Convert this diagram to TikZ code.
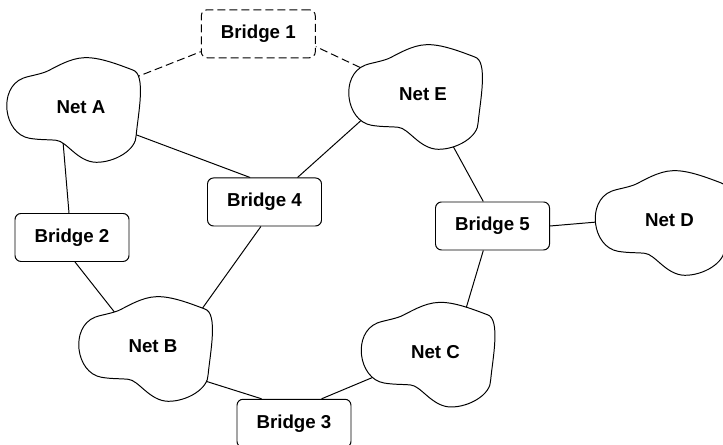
\documentclass[tikz,border=0pt]{standalone}
\usepackage{fontspec}
\setmainfont{Liberation Sans}
\usepackage{tikz}
\usetikzlibrary{calc, positioning}

% lớp vẽ: dây nối nằm dưới, đám mây ở giữa, chữ ở trên cùng
\pgfdeclarelayer{wires}
\pgfdeclarelayer{clouds}
\pgfsetlayers{wires,clouds,main}

\begin{document}
\begin{tikzpicture}[x=0.25cm, y=0.25cm,
    every node/.style={font=\fontsize{13.3pt}{16pt}\selectfont\bfseries},
    bridge/.style={draw, line width=0.7pt, rounded corners=0.15cm, fill=white,
        minimum width=2.85cm, minimum height=1.2cm, inner sep=0pt},
    bridgeoff/.style={bridge, dash pattern=on 0.2cm off 0.1cm},
    net/.style={inner sep=0pt},
    netshape/.style={draw, line width=0.7pt, fill=white},
    wire/.style={line width=0.7pt},
    offwire/.style={wire, dash pattern=on 0.2cm off 0.1cm}]

    % khung hình
    \useasboundingbox (0,0) rectangle (72.3,44.5);

    % =================================================================
    % 1. CÁC MẠNG (ĐÁM MÂY)
    % =================================================================
    \node[net] (A) at (8.1,33.8)   {Net A};
    \node[net] (E) at (42.3,35.1)  {Net E};
    \node[net] (B) at (15.3,9.9)   {Net B};
    \node[net] (C) at (43.55,9.33) {Net C};
    \node[net] (D) at (66.95,22.5) {Net D};

    % =================================================================
    % 2. CÁC CẦU NỐI
    % =================================================================
    \node[bridgeoff] (br1) at (25.83,41.12) {Bridge 1};
    \node[bridge] (br2) at (7.2,20.75)  {Bridge 2};
    \node[bridge] (br3) at (29.4,2.17)  {Bridge 3};
    \node[bridge] (br4) at (26.45,24.3) {Bridge 4};
    \node[bridge] (br5) at (49.25,21.9) {Bridge 5};

    % viền đám mây quanh mỗi mạng
    \begin{pgfonlayer}{clouds}
        \foreach \net in {A,B,C,D,E}
            \draw[netshape, shift={(\net)}, shift={(-0.65,-0.3)}]
                (-5.17,3.17) .. controls (-7.67,2.17) and (-7.1,-2.39) .. (-4.5,-2.83)
                .. controls (-3.5,-3.0) and (-2.6,-2.95) .. (-1.83,-3.03)
                .. controls (-0.8,-3.1) and (0.3,-5.2) .. (2.17,-5.23)
                .. controls (4.0,-5.25) and (6.2,-4.0) .. (6.17,-2.5)
                .. controls (6.35,-0.5) and (7.2,3.6) .. (5.83,4.0)
                .. controls (4.5,4.5) and (2.5,5.3) .. (1.0,5.23)
                .. controls (-0.5,5.2) and (-2.0,4.2) .. (-2.83,3.83)
                .. controls (-3.7,3.5) and (-4.6,3.4) .. cycle;
    \end{pgfonlayer}

    % =================================================================
    % 3. DÂY NỐI GIỮA MẠNG VÀ CẦU
    % =================================================================
    \begin{pgfonlayer}{wires}
        \draw[wire] ($(A)+(-1.88,-2.5)$) -- ([xshift=-0.075cm]br2.north);
        \draw[wire] ($(A)+(4.64,-2.45)$) -- ([xshift=-0.36cm]br4.north);
        \draw[wire] ($(E)+(-5.39,-1.93)$) -- ([xshift=0.825cm]br4.north);
        \draw[wire] ($(B)+(4.29,2.86)$) -- ([xshift=-0.09cm]br4.south);
        \draw[wire] ($(B)+(-3.01,2.32)$) -- ([xshift=0.075cm]br2.south);
        \draw[wire] ($(B)+(4.42,-3.25)$) -- ([xshift=-0.81cm]br3.north);
        \draw[wire] ($(C)+(-5.3,-2.16)$) -- ([xshift=0.69cm]br3.north);
        \draw[wire] ($(E)+(2.55,-4.39)$) -- ([xshift=-0.23cm]br5.north);
        \draw[wire] ($(C)+(2.77,3.38)$) -- ([xshift=-0.23cm]br5.south);
        \draw[wire] ($(D)+(-6.29,-0.12)$) -- (br5.east);

        % cầu dự phòng nét đứt
        \draw[offwire] ($(A)+(5.14,2.84)$) -- ([yshift=0.165cm]br1.south west);
        \draw[offwire] ($(E)+(-5.22,2.15)$) -- ([yshift=-0.32cm]br1.east);
    \end{pgfonlayer}

\end{tikzpicture}
\end{document}
